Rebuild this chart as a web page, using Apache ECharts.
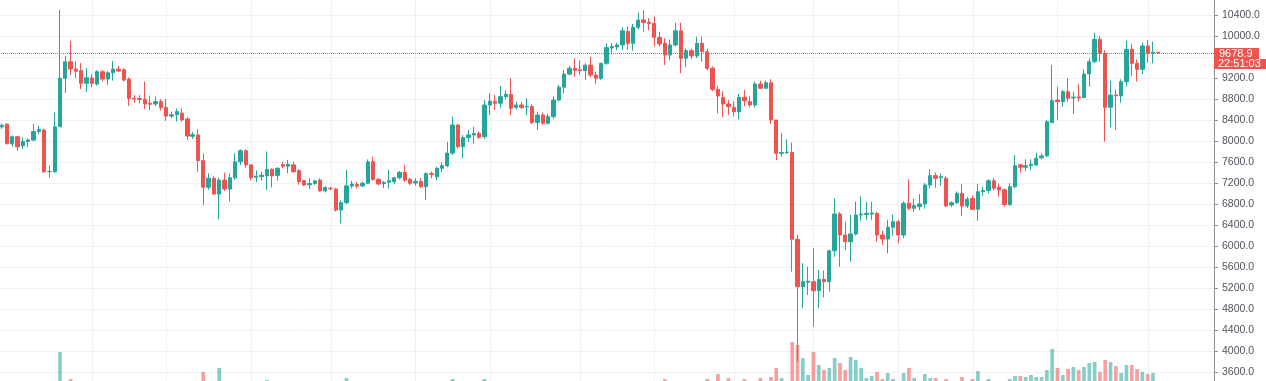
<!DOCTYPE html>
<html>
<head>
<meta charset="utf-8">
<script src="https://cdn.jsdelivr.net/npm/echarts@6/dist/echarts.min.js"></script>
<style>
html,body{margin:0;padding:0;background:#ffffff;overflow:hidden;}
#chart{width:1266px;height:381px;}
</style>
</head>
<body>
<div id="chart"></div>
<script>
// ---------------- DATA ----------------
const startDate = '2019-10-15';
const padDays = 10; // empty days to the right of the last candle

// daily candles: [open, close, low, high]
const ohlc = [
[8270,8300,8230,8330],[8320,7950,7930,8335],[7945,8080,7890,8110],[8080,7890,7815,8100],[7910,7990,7850,8070],
[7990,8020,7880,8050],[8020,8180,7990,8325],[8180,8220,8140,8290],[8210,7415,7390,8230],[7415,7420,7300,7530],
[7415,8270,7390,8540],[8270,9195,8270,10495],[9195,9510,8915,9620],[9510,9370,9255,9905],[9370,9330,9200,9525],
[9340,9100,8990,9485],[9100,9205,8935,9390],[9200,9100,9025,9270],[9085,9320,9055,9350],[9320,9180,9130,9350],
[9180,9300,9070,9330],[9300,9370,9150,9525],[9370,9335,9320,9430],[9355,9160,9130,9390],[9180,8815,8665,9210],
[8815,8800,8730,8876],[8810,8790,8715,8876],[8795,8705,8610,9130],[8720,8700,8585,8865],[8705,8750,8667,8850],
[8750,8640,8580,8800],[8640,8475,8385,8800],[8475,8500,8435,8560],[8500,8560,8370,8620],[8530,8400,8370,8620],
[8420,8095,8020,8451],[8090,8120,8040,8170],[8115,7625,7415,8225],[7625,7120,6780,7765],[7120,7290,7070,7385],
[7290,6990,6971,7330],[6990,7255,6510,7300],[7255,7085,7045,7395],[7085,7300,6845,7385],[7300,7605,7260,7765],
[7605,7815,7545,7840],[7815,7545,7490,7840],[7545,7300,7255,7560],[7310,7330,7215,7440],[7320,7350,7243,7415],
[7335,7460,7065,7800],[7460,7335,7115,7480],[7345,7480,7245,7500],[7550,7520,7480,7600],[7520,7555,7385,7640],
[7545,7415,7396,7606],[7435,7225,7165,7460],[7245,7160,7143,7257],[7165,7190,7080,7290],[7190,7240,7165,7260],
[7255,7050,7034,7290],[7050,7115,7020,7140],[7100,7090,7060,7130],[7085,6685,6655,7110],[6685,6825,6430,6870],
[6825,7145,6800,7450],[7145,7180,7100,7240],[7170,7140,7100,7215],[7145,7195,7120,7230],[7195,7605,7180,7650],
[7605,7270,7243,7700],[7270,7180,7162,7290],[7190,7210,7100,7240],[7215,7245,7095,7450],[7225,7300,7175,7320],
[7300,7400,7270,7428],[7400,7255,7220,7545],[7270,7195,7160,7290],[7200,7230,7150,7290],[7230,7130,7105,7295],
[7130,7380,6875,7400],[7380,7360,7290,7420],[7320,7480,7257,7510],[7480,7530,7400,7595],[7530,7770,7500,7985],
[7770,8305,7733,8463],[8305,7890,7860,8325],[7890,8065,7670,8115],[8065,8115,7980,8210],[8115,8145,7955,8270],
[8145,8070,8040,8180],[8080,8685,8040,8780],[8685,8760,8495,8910],[8755,8720,8590,8880],[8720,8845,8630,9047],
[8845,8890,8790,8960],[8890,8625,8495,9195],[8640,8685,8600,8750],[8685,8640,8610,8745],[8650,8660,8495,8813],
[8655,8350,8324,8700],[8350,8495,8210,8560],[8495,8340,8310,8540],[8340,8465,8310,8520],[8465,8780,8420,8850],
[8780,9025,8760,9067],[9025,9275,8908,9352],[9275,9385,9250,9429],[9385,9350,9225,9575],[9355,9340,9260,9530],
[9340,9445,9162,9480],[9445,9255,9210,9605],[9255,9195,9085,9320],[9195,9480,9160,9492],[9480,9780,9450,9860],
[9770,9800,9650,9870],[9790,9830,9730,9870],[9830,10100,9733,10165],[10085,9860,9733,10178],[9860,10165,9720,10230],
[10165,10305,10120,10444],[10305,10255,10082,10495],[10260,10240,10114,10337],[10240,9975,9796,10368],[9975,9848,9800,10082],
[9860,9638,9447,9960],[9638,9829,9543,9930],[9829,10100,9800,10253],[10100,9575,9290,10253],[9575,9720,9404,9760],
[9720,9620,9560,9760],[9620,9860,9580,9987],[9860,9700,9510,9987],[9700,9385,9352,9760],[9385,8985,8950,9420],
[8985,8857,8528,9050],[8830,8705,8451,8950],[8705,8655,8500,8780],[8640,8558,8470,8760],[8558,8833,8413,8895],
[8833,8768,8660,8971],[8750,8686,8640,8850],[8686,9086,8640,9130],[9086,9004,8990,9149],[9004,9110,8990,9149],
[9110,8400,8324,9175],[8400,7765,7638,8400],[7765,7780,7700,8146],[7780,7790,7750,8032],[7780,6128,5510,7968],
[6128,5225,3800,6210],[5225,5320,4813,5670],[5310,5330,5067,5606],[5320,5148,4462,5956],[5148,5365,4813,5543],
[5365,5320,5022,5530],[5320,5910,5130,5930],[5910,6610,5797,6908],[6610,6210,5606,6650],[6210,6082,5923,6463],
[6082,6229,5701,6590],[6229,6590,6200,6844],[6590,6610,6480,6952],[6600,6620,6500,6844],[6610,6630,6500,6844],
[6620,6210,6082,6650],[6210,6133,6019,6290],[6133,6356,5860,6500],[6356,6463,6200,6600],[6463,6210,6050,6500],
[6210,6813,6150,6850],[6813,6718,6680,7270],[6718,6770,6650,6900],[6750,6800,6680,6990],[6800,7162,6710,7200],
[7162,7340,7100,7460],[7340,7290,7110,7400],[7300,7320,7150,7380],[7290,6762,6740,7330],[6780,6825,6740,6850],
[6825,7004,6800,7040],[7004,6762,6571,7181],[6762,6890,6720,6930],[6905,6700,6680,6960],[6700,7035,6481,7181],
[7035,7055,6950,7130],[7055,7243,7000,7270],[7243,7100,7060,7290],[7120,7067,6940,7190],[7070,6790,6748,7100],
[6790,7130,6760,7200],[7130,7530,7100,7733],[7545,7500,7396,7570],[7500,7530,7420,7650],[7530,7560,7450,7650],
[7545,7670,7520,7777],[7680,7715,7650,7760],[7715,8368,7700,8400],[8350,8768,8350,9448],[8780,8750,8400,9035],
[8750,8940,8654,8971],[8940,8813,8740,9194],[8820,8835,8514,8939],[8840,8820,8749,9086],[8830,9276,8813,9365],
[9276,9510,9035,9575],[9510,9937,9492,10063],[9937,9670,9510,10000],[9670,8642,7987,9733],[8642,8876,8261,9149],
[8876,8860,8210,8980],[8860,9130,8730,9175],[9130,9747,9035,9911],[9747,9480,9238,9848],[9480,9365,9130,9556],
[9365,9810,9276,9873],[9810,9670,9492,9924],[9670,9690,9480,9892],[9690,9678.9,9670,9700]
];

// daily volume (relative units)
const volume = [
14,16,12,13,11,10,14,12,20,18,22,53,23,26,18,17,15,13,14,13,
12,14,11,13,19,14,12,15,13,12,13,16,13,14,13,18,15,22,33,20,
21,37,19,18,20,19,17,16,13,12,25,17,14,12,13,14,16,14,12,11,
15,13,12,22,23,27,16,13,12,18,17,13,10,12,11,13,14,12,11,14,
20,13,15,14,19,26,21,17,14,15,13,26,23,18,19,15,20,15,14,15,
18,16,15,14,17,19,21,17,19,15,16,19,17,18,22,17,16,22,21,20,
22,22,17,21,19,26,20,21,24,19,16,18,17,26,23,31,24,27,22,24,
26,18,23,27,20,28,37,27,22,63,60,47,30,53,40,35,37,47,42,35,
48,45,37,27,29,33,26,32,26,20,32,37,27,22,31,27,27,21,26,20,
22,28,21,26,34,19,26,22,21,22,26,29,29,28,30,28,28,35,56,37,
30,36,38,35,38,42,43,33,45,43,39,32,40,40,36,33,31,32,5
];

// dates that carry a vertical grid line
const gridDates = [
'2019-11-01','2019-11-15','2019-12-01','2019-12-16','2020-01-01','2020-01-15','2020-02-01',
'2020-02-15','2020-03-01','2020-03-16','2020-04-01','2020-04-15','2020-05-01','2020-05-18'
];

const lastPrice = 9678.9;
const countdown = '22:51:03';

// ---------------- STYLE ----------------
const upColor = '#26a69a';
const downColor = '#ef5350';
const volUp = 'rgba(38,166,154,0.55)';
const volDown = 'rgba(239,83,80,0.55)';
const gridColor = '#eef0f4';
const axisColor = '#8a8d96';
const labelFont = 'Liberation Sans, Arial, sans-serif';

function buildDates(start, n) {
  const out = [];
  const t0 = Date.parse(start + 'T00:00:00Z');
  for (let i = 0; i < n; i++) {
    out.push(new Date(t0 + i * 86400000).toISOString().slice(0, 10));
  }
  return out;
}
const categories = buildDates(startDate, ohlc.length + padDays);

const chart = echarts.init(document.getElementById('chart'), null, {renderer: 'canvas'});

const option = {
  animation: false,
  backgroundColor: '#ffffff',
  grid: [
    {left: -1, right: 52, top: -6, bottom: -12, containLabel: false, outerBoundsMode: 'none'},
    {left: -1, right: 52, bottom: -24, height: 100, containLabel: false, outerBoundsMode: 'none'}
  ],
  xAxis: [
    {type: 'category', data: categories, gridIndex: 0, boundaryGap: true,
     axisLine: {show: false}, axisTick: {show: false}, axisLabel: {show: false}, splitLine: {show: false}},
    {type: 'category', data: categories, gridIndex: 1, boundaryGap: true,
     axisLine: {show: false}, axisTick: {show: false}, axisLabel: {show: false}, splitLine: {show: false}}
  ],
  yAxis: [
    {type: 'value', gridIndex: 0, position: 'right', min: 3200, max: 10800, interval: 400, scale: false,
     axisLine: {show: true, lineStyle: {color: axisColor, width: 1}},
     axisTick: {show: true, length: 4, lineStyle: {color: axisColor}},
     axisLabel: {show: true, margin: 8, color: '#50535e', fontSize: 10.5, fontFamily: labelFont,
       formatter: v => v.toFixed(1)},
     splitLine: {show: true, lineStyle: {color: gridColor, width: 1}}},
    {type: 'value', gridIndex: 1, min: 0, max: 100, show: false, splitLine: {show: false}}
  ],
  series: [
    {
      name: 'vgrid', type: 'custom', xAxisIndex: 0, yAxisIndex: 0, silent: true, z: 0,
      data: gridDates.map(d => [d]),
      encode: {x: 0},
      renderItem: function (params, api) {
        const x = Math.round(api.coord([api.value(0), 5000])[0]) + 0.5;
        const cs = params.coordSys;
        return {type: 'line', shape: {x1: x, y1: cs.y, x2: x, y2: cs.y + cs.height},
                style: {stroke: gridColor, lineWidth: 1}};
      }
    },
    {
      name: 'Volume', type: 'bar', xAxisIndex: 1, yAxisIndex: 1, barWidth: '70%', z: 1, silent: true,
      data: volume.map((v, i) => ({value: v, itemStyle: {color: ohlc[i][1] >= ohlc[i][0] ? volUp : volDown}}))
    },
    {
      name: 'BTCUSD', type: 'candlestick', xAxisIndex: 0, yAxisIndex: 0, barWidth: '72%', z: 3,
      data: ohlc,
      itemStyle: {color: upColor, color0: downColor, borderColor: upColor, borderColor0: downColor, borderWidth: 1},
      markLine: {
        silent: true, symbol: ['none', 'none'], label: {show: false}, z: 4,
        lineStyle: {color: downColor, type: [1, 1], width: 1, opacity: 1},
        data: [{yAxis: lastPrice}]
      }
    }
  ]
};
chart.setOption(option);

// price and countdown boxes on the price scale
const py = Math.round(chart.convertToPixel({yAxisIndex: 0}, lastPrice));
const axisX = chart.getWidth() - 52;
chart.setOption({
  graphic: [
    {type: 'rect', z: 100, shape: {x: axisX, y: py - 5, width: 45, height: 11},
     style: {fill: downColor}},
    {type: 'text', z: 101, x: axisX + 5, y: py + 0.5,
     style: {text: lastPrice.toFixed(1), fill: '#ffffff', font: '11px ' + labelFont, verticalAlign: 'middle'}},
    {type: 'rect', z: 100, shape: {x: axisX, y: py + 6, width: 53, height: 10},
     style: {fill: downColor}},
    {type: 'text', z: 101, x: axisX + 4, y: py + 11,
     style: {text: countdown, fill: '#ffffff', font: '11px ' + labelFont, verticalAlign: 'middle'}}
  ]
});
</script>
</body>
</html>
